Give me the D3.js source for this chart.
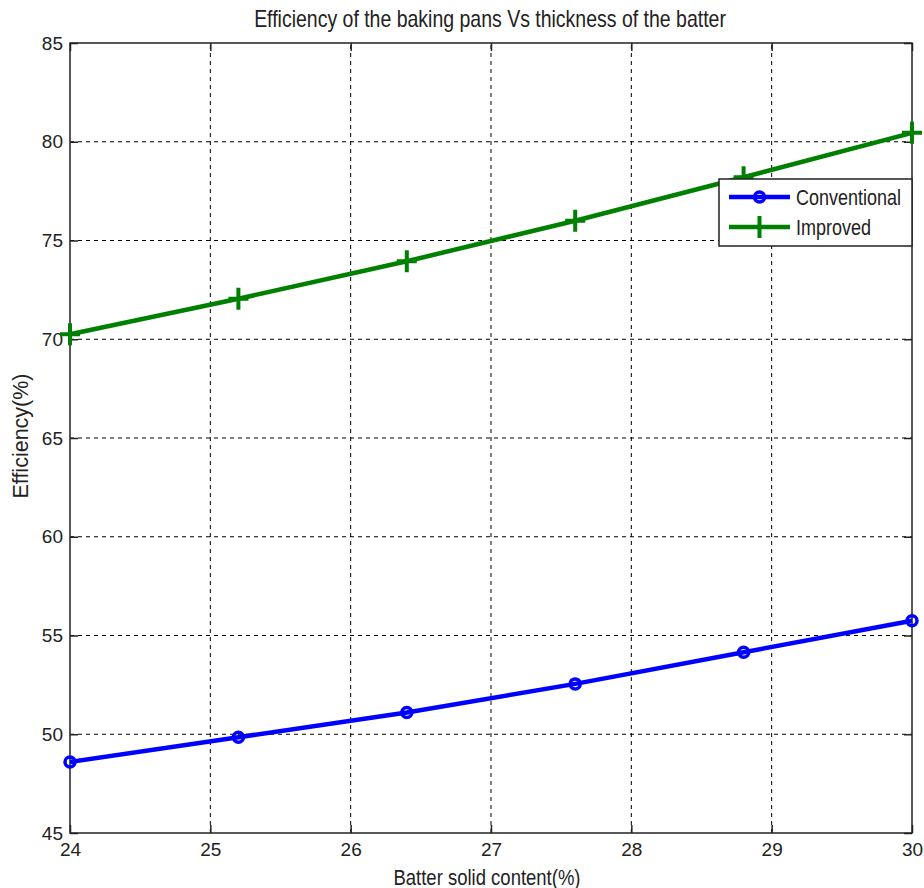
<!DOCTYPE html>
<html>
<head>
<meta charset="utf-8">
<script src="https://cdn.jsdelivr.net/npm/d3@7"></script>
<style>
  body { margin: 0; background: #fff; }
  svg { display: block; font-family: "Liberation Sans", Arial, sans-serif; }
</style>
</head>
<body>
<svg id="chart" width="924" height="888"></svg>
<script>
// Batter solid content (%) at which both pan types were measured
const solidContent = [24, 25.2, 26.4, 27.6, 28.8, 30];
// Efficiency (%) for each pan type
const conventional = [48.6, 49.85, 51.1, 52.55, 54.15, 55.75];
const improved = [70.25, 72.05, 73.95, 76.0, 78.2, 80.45];
const xTicks = [24, 25, 26, 27, 28, 29, 30];
const yTicks = [45, 50, 55, 60, 65, 70, 75, 80, 85];
const seriesNames = ["Conventional", "Improved"];

const svg = d3.select("#chart");
const margin = { left: 70, right: 12, top: 43, bottom: 55 };
const W = 924, H = 888;
const x = d3.scaleLinear().domain([24, 30]).range([margin.left, W - margin.right]);
const y = d3.scaleLinear().domain([45, 85]).range([H - margin.bottom, margin.top]);
const x0 = x.range()[0], x1 = x.range()[1], y0 = y.range()[0], y1 = y.range()[1];
const ink = "#222";

// dashed grid
const grid = svg.append("g").attr("stroke", "#000").attr("stroke-width", 1).attr("stroke-dasharray", "4,4");
grid.selectAll(".gx").data(xTicks.slice(1, -1)).join("line")
  .attr("x1", d => x(d)).attr("x2", d => x(d)).attr("y1", y0).attr("y2", y1);
grid.selectAll(".gy").data(yTicks.slice(1, -1)).join("line")
  .attr("x1", x0).attr("x2", x1).attr("y1", d => y(d)).attr("y2", d => y(d));

// axes with inward ticks, plus mirrored ticks on top/right
const tickLen = 8;
const axisStyle = g => {
  g.select(".domain").remove();
  g.selectAll(".tick line").attr("stroke", ink).attr("stroke-width", 1.5);
  g.selectAll(".tick text").attr("fill", ink).style("font-size", "19px")
    .style("font-family", "'Liberation Sans', Arial, sans-serif");
};
svg.append("g").attr("transform", `translate(0,${y0})`)
  .call(d3.axisBottom(x).tickValues(xTicks).tickSizeInner(-tickLen).tickPadding(10).tickFormat(d3.format("d")))
  .call(axisStyle);
svg.append("g").attr("transform", `translate(${x0},0)`)
  .call(d3.axisLeft(y).tickValues(yTicks).tickSizeInner(-tickLen).tickPadding(7).tickFormat(d3.format("d")))
  .call(axisStyle);
svg.append("g").attr("transform", `translate(0,${y1})`)
  .call(d3.axisTop(x).tickValues(xTicks).tickSizeInner(-tickLen).tickFormat(""))
  .call(axisStyle);
svg.append("g").attr("transform", `translate(${x1},0)`)
  .call(d3.axisRight(y).tickValues(yTicks).tickSizeInner(-tickLen).tickFormat(""))
  .call(axisStyle);

// plot box
svg.append("rect").attr("x", x0).attr("y", y1).attr("width", x1 - x0).attr("height", y0 - y1)
  .attr("fill", "none").attr("stroke", ink).attr("stroke-width", 1.5);

const line = d3.line().x(d => x(d[0])).y(d => y(d[1]));
const series = [
  { name: seriesNames[0], values: conventional, color: "#0000ff", marker: "circle" },
  { name: seriesNames[1], values: improved, color: "#008000", marker: "plus" }
];

function drawMarker(g, cx, cy, s) {
  if (s.marker === "circle") {
    g.append("circle").attr("cx", cx).attr("cy", cy).attr("r", 5)
      .attr("fill", "none").attr("stroke", s.color).attr("stroke-width", 3.5);
  } else {
    g.append("path").attr("d", `M${cx - 10},${cy}H${cx + 10}M${cx},${cy - 11}V${cy + 11}`)
      .attr("stroke", s.color).attr("stroke-width", 4);
  }
}

series.forEach(s => {
  const pts = solidContent.map((v, i) => [v, s.values[i]]);
  svg.append("path").datum(pts).attr("d", line)
    .attr("fill", "none").attr("stroke", s.color).attr("stroke-width", 4.5);
  const g = svg.append("g");
  pts.forEach(p => drawMarker(g, x(p[0]), y(p[1]), s));
});

// text with a slightly taller glyph shape
function label(tx, ty, str, size, anchor) {
  return svg.append("text")
    .attr("transform", `translate(${tx},${ty}) scale(1,1.2)`)
    .attr("text-anchor", anchor || "start")
    .attr("fill", ink).style("font-size", size + "px")
    .text(str);
}

// legend
const lg = svg.append("g");
lg.append("rect").attr("x", 719).attr("y", 179).attr("width", 193).attr("height", 67)
  .attr("fill", "#fff").attr("stroke", ink).attr("stroke-width", 1.5);
series.forEach((s, i) => {
  const ly = 197 + i * 30;
  lg.append("line").attr("x1", 729).attr("x2", 790).attr("y1", ly).attr("y2", ly)
    .attr("stroke", s.color).attr("stroke-width", 4.5);
  drawMarker(lg, 759.5, ly, s);
});
seriesNames.forEach((n, i) => label(796, 205 + i * 30, n, 18));

// titles
label(490, 27, "Efficiency of the baking pans Vs thickness of the batter", 19.5, "middle");
label(487, 885, "Batter solid content(%)", 18.5, "middle");
svg.append("text").attr("transform", "translate(28,436) rotate(-90)").attr("text-anchor", "middle")
  .attr("fill", ink).style("font-size", "21.5px")
  .text("Efficiency(%)");
</script>
</body>
</html>
